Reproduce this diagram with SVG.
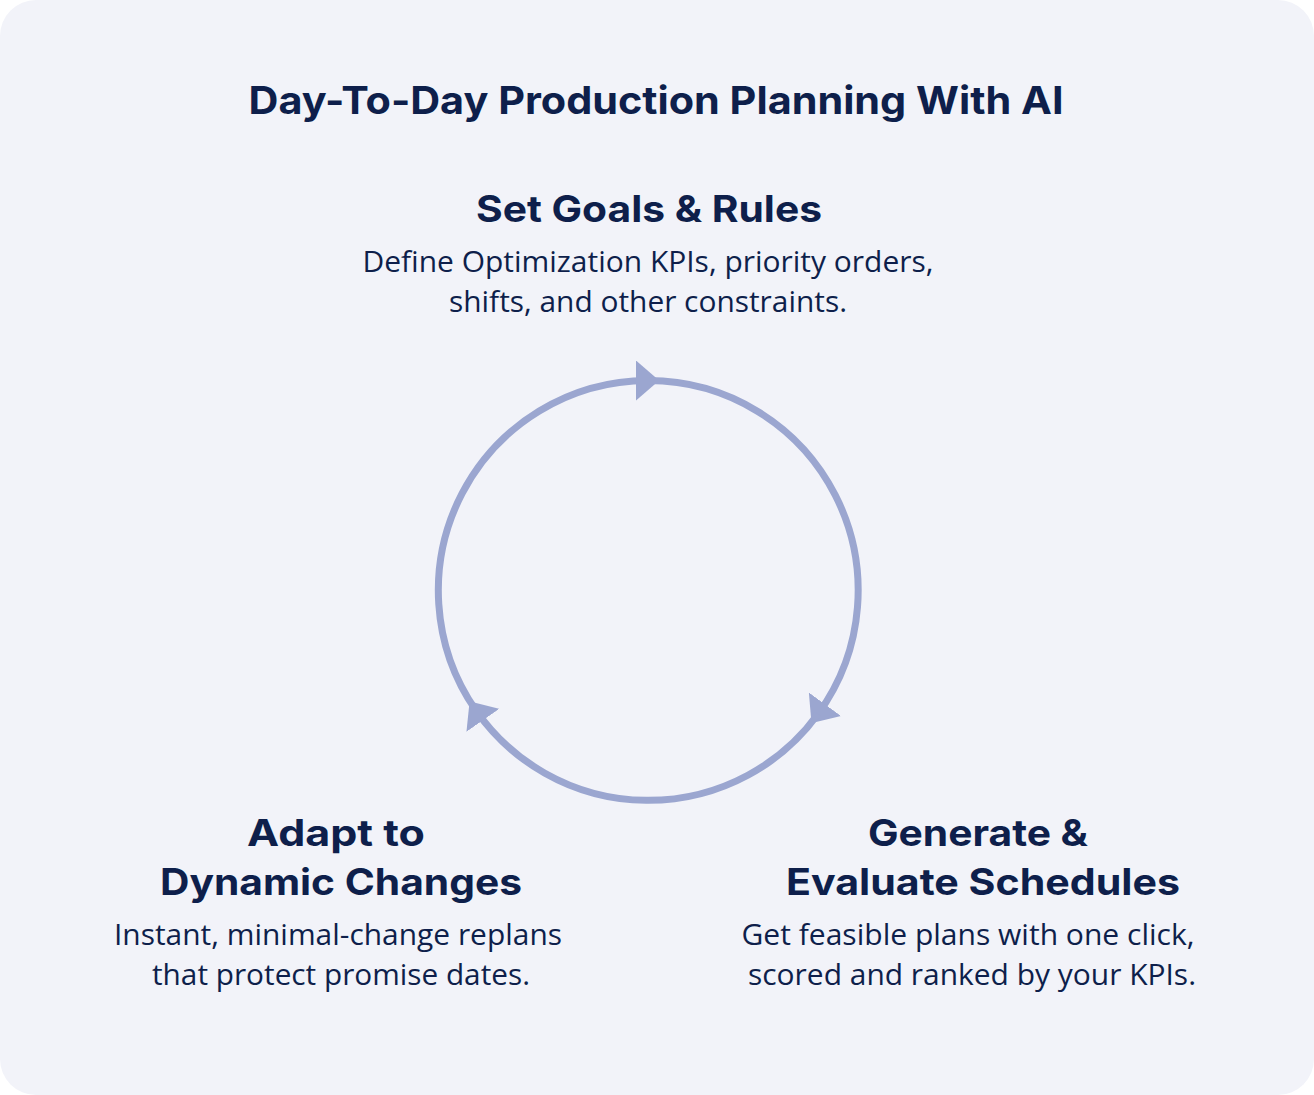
<svg xmlns="http://www.w3.org/2000/svg" width="1314" height="1095" viewBox="0 0 1314 1095">
<style>
.title{font-family:Inter,"Liberation Sans",sans-serif;font-weight:700;font-size:38px;fill:#0e1f4b;text-anchor:middle}
.head{font-family:Inter,"Liberation Sans",sans-serif;font-weight:700;font-size:37px;fill:#0e1f4b;text-anchor:middle}
.body{font-family:"Open Sans","Noto Sans",sans-serif;font-size:29.5px;fill:#0e1f4b;text-anchor:middle}
.conn{fill:none;stroke:#9ba6d0;stroke-width:7}
</style>
<defs>
<marker id="arr" viewBox="0 0 22 40" markerUnits="userSpaceOnUse" markerWidth="22" markerHeight="40" refX="12" refY="20" orient="auto">
<path d="M0,0 L22,19 L22,21 L0,40 Z" fill="#9ba6d0"/>
</marker>
</defs>
<rect x="0" y="0" width="1314" height="1095" rx="36" ry="36" fill="#f2f3f9"/>
<text class="title" x="656" y="114" textLength="815" lengthAdjust="spacingAndGlyphs">Day-To-Day Production Planning With AI</text>
<g id="connectors">
<path class="conn" d="M476,710.5 A210,210 0 0 1 648,380.5" marker-end="url(#arr)"/>
<path class="conn" d="M648,380.5 A210,210 0 0 1 818,714" marker-end="url(#arr)"/>
<path class="conn" d="M818,714 A210,210 0 0 1 476,710.5" marker-end="url(#arr)"/>
</g>
<g id="node-set-goals">
<text class="head" x="649" y="222" textLength="346" lengthAdjust="spacingAndGlyphs">Set Goals &amp; Rules</text>
<text class="body" x="648" y="272" textLength="571" lengthAdjust="spacingAndGlyphs">Define Optimization KPIs, priority orders,</text>
<text class="body" x="648" y="312" textLength="398" lengthAdjust="spacingAndGlyphs">shifts, and other constraints.</text>
</g>
<g id="node-generate">
<text class="head" x="978" y="846" textLength="220" lengthAdjust="spacingAndGlyphs">Generate &amp;</text>
<text class="head" x="983" y="895" textLength="394" lengthAdjust="spacingAndGlyphs">Evaluate Schedules</text>
<text class="body" x="968" y="945" textLength="453" lengthAdjust="spacingAndGlyphs">Get feasible plans with one click,</text>
<text class="body" x="972" y="985" textLength="448" lengthAdjust="spacingAndGlyphs">scored and ranked by your KPIs.</text>
</g>
<g id="node-adapt">
<text class="head" x="336" y="846" textLength="178" lengthAdjust="spacingAndGlyphs">Adapt to</text>
<text class="head" x="341" y="895" textLength="362" lengthAdjust="spacingAndGlyphs">Dynamic Changes</text>
<text class="body" x="338" y="945" textLength="448" lengthAdjust="spacingAndGlyphs">Instant, minimal-change replans</text>
<text class="body" x="341" y="985" textLength="378" lengthAdjust="spacingAndGlyphs">that protect promise dates.</text>
</g>
</svg>
